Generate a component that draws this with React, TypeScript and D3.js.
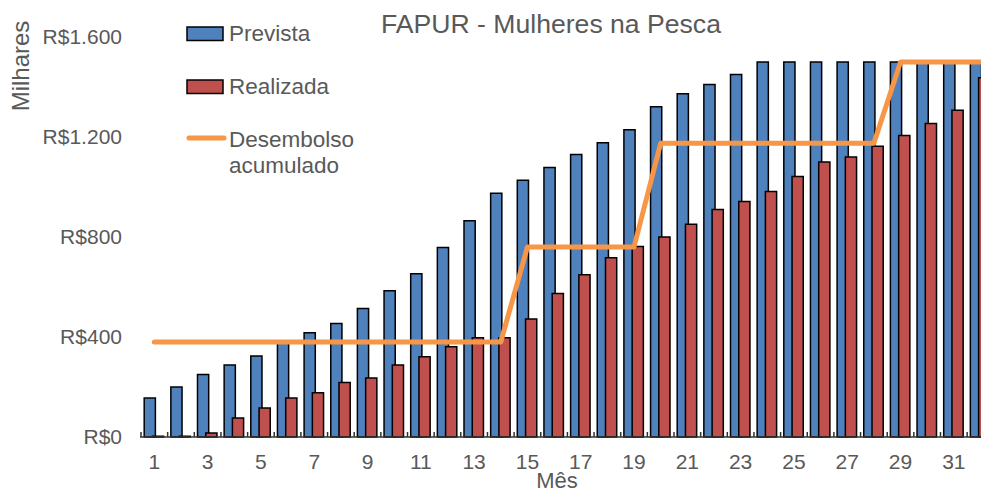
import React from "react";
import * as d3 from "d3";

const months = [1, 2, 3, 4, 5, 6, 7, 8, 9, 10, 11, 12, 13, 14, 15, 16, 17, 18, 19, 20, 21, 22, 23, 24, 25, 26, 27, 28, 29, 30, 31, 32];
const prevista = [156, 200, 250, 288, 324, 380, 417, 454, 514, 585, 653, 758, 865, 975, 1027, 1078, 1130, 1177, 1229, 1321, 1373, 1410, 1450, 1500, 1500, 1500, 1500, 1500, 1500, 1500, 1500, 1500];
const realizada = [3, 3, 16, 76, 116, 156, 177, 218, 236, 288, 321, 361, 397, 397, 472, 574, 649, 717, 762, 800, 851, 910, 942, 982, 1042, 1100, 1120, 1163, 1206, 1254, 1307, 1437];
const desembolso = [380, 380, 380, 380, 380, 380, 380, 380, 380, 380, 380, 380, 380, 380, 760, 760, 760, 760, 760, 1175, 1175, 1175, 1175, 1175, 1175, 1175, 1175, 1175, 1500, 1500, 1500, 1500];
const yTicks = [0, 400, 800, 1200, 1600];
const yTickLabels = ["R$0", "R$400", "R$800", "R$1.200", "R$1.600"];
const xLabelMonths = [1, 3, 5, 7, 9, 11, 13, 15, 17, 19, 21, 23, 25, 27, 29, 31];

const W = 981;
const H = 493;
const FONT = "'Liberation Sans', Arial, sans-serif";
const GREY = "#595959";

const App = () => {
  const left = 141;
  const step = 26.65;
  const x = d3.scaleBand<number>()
    .domain(months)
    .range([left, left + months.length * step])
    .padding(0);
  const y = d3.scaleLinear().domain([0, 1600]).range([437, 37]);
  const bw = x.bandwidth();

  const line = d3.line<number>()
    .x((d, i) => (x(months[i]) as number) + bw / 2)
    .y(d => y(d));

  return (
    <svg width={W} height={H} style={{ position: "absolute", left: 0, top: 0, background: "#fff" }} fontFamily={FONT}>
      <defs>
        <clipPath id="plot">
          <rect x={0} y={0} width={W} height={H} />
        </clipPath>
      </defs>

      <text x={551} y={33} textAnchor="middle" fontSize={26.6} fill={GREY}>FAPUR - Mulheres na Pesca</text>

      <text transform="translate(21,66) rotate(-90)" textAnchor="middle" dy="0.35em" fontSize={24} fill={GREY}>Milhares</text>

      {yTicks.map((t, i) => (
        <text key={t} x={122} y={y(t)} dy="0.35em" textAnchor="end" fontSize={21} fill={GREY}>{yTickLabels[i]}</text>
      ))}

      <g clipPath="url(#plot)">
        {months.map((m, i) => (
          <rect key={"p" + m} x={(x(m) as number) + bw * 0.12} y={y(prevista[i])} width={bw * 0.42}
            height={y(0) - y(prevista[i])} fill="#4F81BD" stroke="#000" strokeWidth={1.5} />
        ))}
        {months.map((m, i) => (
          <rect key={"r" + m} x={(x(m) as number) + bw * 0.43} y={y(realizada[i])} width={bw * 0.42}
            height={y(0) - y(realizada[i])} fill="#C0504D" stroke="#000" strokeWidth={1.5} />
        ))}

        <line x1={left - 1} x2={W} y1={y(0)} y2={y(0)} stroke="#333" strokeWidth={1.5} />
        {months.map(m => (
          <line key={"t" + m} x1={x(m) as number} x2={x(m) as number} y1={y(0)} y2={y(0) - 5} stroke="#333" strokeWidth={1.5} />
        ))}

        <path d={line(desembolso) || ""} fill="none" stroke="#F79646" strokeWidth={5} strokeLinejoin="round" strokeLinecap="round" />
      </g>

      {xLabelMonths.map(m => (
        <text key={"xl" + m} x={(x(m) as number) + bw / 2} y={469} textAnchor="middle" fontSize={21} fill={GREY}>{m}</text>
      ))}
      <text x={557} y={488} textAnchor="middle" fontSize={22} fill={GREY}>Mês</text>

      {/* legenda */}
      <rect x={187} y={27} width={36} height={13.5} fill="#4F81BD" stroke="#000" strokeWidth={1.5} />
      <text x={229} y={41} fontSize={22.5} fill={GREY}>Prevista</text>
      <rect x={187} y={80} width={36} height={13.5} fill="#C0504D" stroke="#000" strokeWidth={1.5} />
      <text x={229} y={93.5} fontSize={22.5} fill={GREY}>Realizada</text>
      <line x1={189} x2={224} y1={138} y2={138} stroke="#F79646" strokeWidth={5} strokeLinecap="round" />
      <text x={229} y={146.5} fontSize={22.5} fill={GREY}>Desembolso</text>
      <text x={229} y={173} fontSize={22.5} fill={GREY}>acumulado</text>
    </svg>
  );
};

export default App;
